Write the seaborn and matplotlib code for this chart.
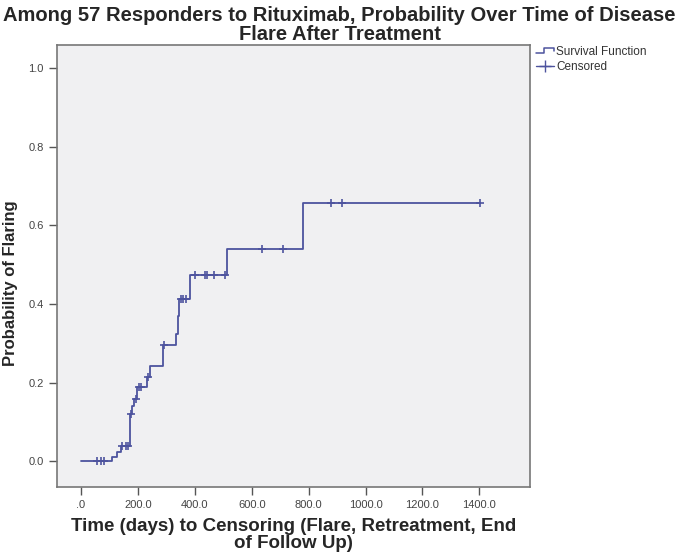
import numpy as np
import pandas as pd
import seaborn as sns
import matplotlib.pyplot as plt
from matplotlib.lines import Line2D
from matplotlib.legend_handler import HandlerBase

# step points of the curve (time in days, probability of flaring after the step)
step_days = [0, 108, 128, 140, 172, 180, 188, 198, 231, 243, 289, 335, 341, 346, 383, 513, 780]
step_prob = [0.0, 0.012, 0.024, 0.040, 0.121, 0.142, 0.160, 0.189, 0.215, 0.243, 0.295,
             0.325, 0.370, 0.412, 0.473, 0.541, 0.657]

# censored observations (days)
censor_days = [55, 70, 82, 143, 157, 166, 176, 192, 205, 212, 236, 292, 352, 360, 368,
               401, 436, 442, 466, 507, 636, 709, 878, 917, 1401]

x_ticks = [0, 200, 400, 600, 800, 1000, 1200, 1400]
x_tick_labels = [".0", "200.0", "400.0", "600.0", "800.0", "1000.0", "1200.0", "1400.0"]
y_ticks = [0.0, 0.2, 0.4, 0.6, 0.8, 1.0]
y_tick_labels = ["0.0", "0.2", "0.4", "0.6", "0.8", "1.0"]

line_color = "#4d539e"

sns.set_style("white")
plt.rcParams['font.family'] = ['Liberation Sans', 'DejaVu Sans']


class StepHandler(HandlerBase):
    # little step glyph like the SPSS legend
    def create_artists(self, legend, orig_handle, xdescent, ydescent, width, height, fontsize, trans):
        x0, y0 = -xdescent, -ydescent
        xs = [x0, x0 + width * 0.45, x0 + width * 0.45, x0 + width, x0 + width]
        ys = [y0 + height * 0.25, y0 + height * 0.25, y0 + height * 0.85, y0 + height * 0.85, y0 + height * 0.55]
        ln = Line2D(xs, ys, color=orig_handle.get_color(), linewidth=1.1, transform=trans)
        return [ln]


# curve runs on to the last censored case
curve = pd.DataFrame({
    "days": step_days + [max(censor_days)],
    "prob": step_prob + [step_prob[-1]],
})
idx = np.searchsorted(step_days, censor_days, side="right") - 1
cens = pd.DataFrame({"days": censor_days, "prob": np.array(step_prob)[idx]})

fig = plt.figure(figsize=(6.79, 5.53), dpi=100)
ax = fig.add_axes([0.084, 0.12, 0.697, 0.799])
ax.set_facecolor("#f0f0f2")

sns.lineplot(data=curve, x="days", y="prob", drawstyle="steps-post", sort=False,
             color=line_color, linewidth=1.3, ax=ax)
sns.scatterplot(data=cens, x="days", y="prob", marker="+", s=35, linewidth=1.2,
                color=line_color, ax=ax, zorder=3)

ax.set_xlim(-84, 1579)
ax.set_ylim(-0.064, 1.059)
ax.set_xticks(x_ticks)
ax.set_xticklabels(x_tick_labels)
ax.set_yticks(y_ticks)
ax.set_yticklabels(y_tick_labels)
ax.tick_params(axis="both", direction="out", length=6, width=1, color="#555555",
               labelsize=8, labelcolor="#444444", bottom=True, left=True)
for sp in ax.spines.values():
    sp.set_color("#777777")
    sp.set_linewidth(1.2)

ax.set_xlabel("Time (days) to Censoring (Flare, Retreatment, End\nof Follow Up)",
              fontsize=13.5, fontweight="bold", labelpad=6, linespacing=0.95)
ax.set_ylabel("Probability of Flaring", fontsize=12, fontweight="bold")
ax.yaxis.set_label_coords(-0.082, 0.46)

fig.suptitle("Among 57 Responders to Rituximab, Probability Over Time of Disease\nFlare After Treatment",
             x=0.5, y=0.99, fontsize=14.5, fontweight="bold", linespacing=1.0)

handles = [Line2D([0], [0], color=line_color, linewidth=1.2),
           Line2D([0], [0], color=line_color, linewidth=1.0, marker="+", markersize=8)]
fig.legend(handles, ["Survival Function", "Censored"], loc="upper left",
           bbox_to_anchor=(0.783, 0.925), frameon=False, fontsize=8.5, handlelength=1.5,
           handletextpad=0.2, labelspacing=0.25, borderaxespad=0, labelcolor="#333333",
           handler_map={handles[0]: StepHandler()})

fig.savefig("out.png", dpi=100)
